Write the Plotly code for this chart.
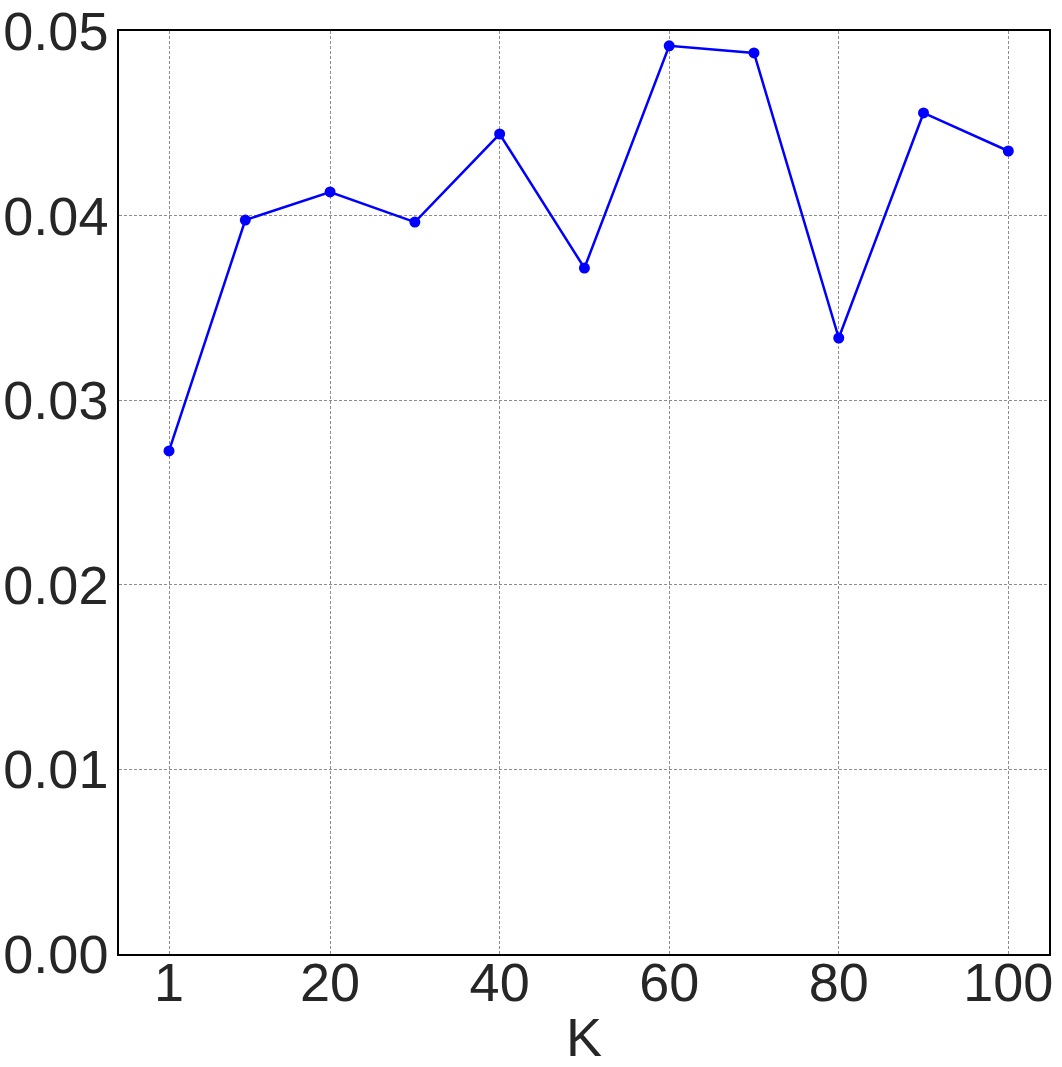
import plotly.graph_objects as go

# data
k_values = [1, 10, 20, 30, 40, 50, 60, 70, 80, 90, 100]
scores = [0.02725, 0.03976, 0.04128, 0.03965, 0.04442, 0.03716,
          0.04920, 0.04881, 0.03337, 0.04556, 0.04350]
x_ticks = [1, 20, 40, 60, 80, 100]
y_ticks = [0.00, 0.01, 0.02, 0.03, 0.04, 0.05]

TEXT_COLOR = "#262626"
GRID_COLOR = "#8c8c8c"
LINE_COLOR = "#0000FF"
FONT = "Liberation Sans, Arial, sans-serif"
FONT_SIZE = 54

fig = go.Figure()
fig.add_trace(
    go.Scatter(
        x=k_values, y=scores,
        mode="lines+markers",
        line=dict(color=LINE_COLOR, width=2.5),
        marker=dict(color=LINE_COLOR, size=11),
        showlegend=False,
        cliponaxis=False,
    )
)

axis_common = dict(
    showgrid=True,
    gridcolor=GRID_COLOR,
    gridwidth=0.8,
    griddash="3px,2px",
    showline=True,
    linecolor="black",
    linewidth=1.5,
    mirror=True,
    zeroline=False,
    ticks="",
    automargin=False,
    ticklabeloverflow="allow",
    tickfont=dict(size=FONT_SIZE, color=TEXT_COLOR, family=FONT),
)

fig.update_xaxes(
    **axis_common,
    range=[-4.9, 104.8],
    tickvals=x_ticks,
    ticktext=[str(v) for v in x_ticks],
    ticklabelstandoff=-20,
    title=dict(text="K", font=dict(size=FONT_SIZE, color=TEXT_COLOR, family=FONT), standoff=11),
)
fig.update_yaxes(
    **axis_common,
    range=[0, 0.05],
    tickvals=y_ticks,
    ticktext=[f"{v:.2f}" for v in y_ticks],
    ticklabelstandoff=-2,
)

fig.update_layout(
    width=1062,
    height=1067,
    plot_bgcolor="white",
    paper_bgcolor="white",
    font=dict(family=FONT, color=TEXT_COLOR),
    margin=dict(l=119, r=13, t=31, b=113),
)

fig.write_html(
    "out.html",
    config={"displayModeBar": False},
    post_script="document.body.style.margin='0';",
)
